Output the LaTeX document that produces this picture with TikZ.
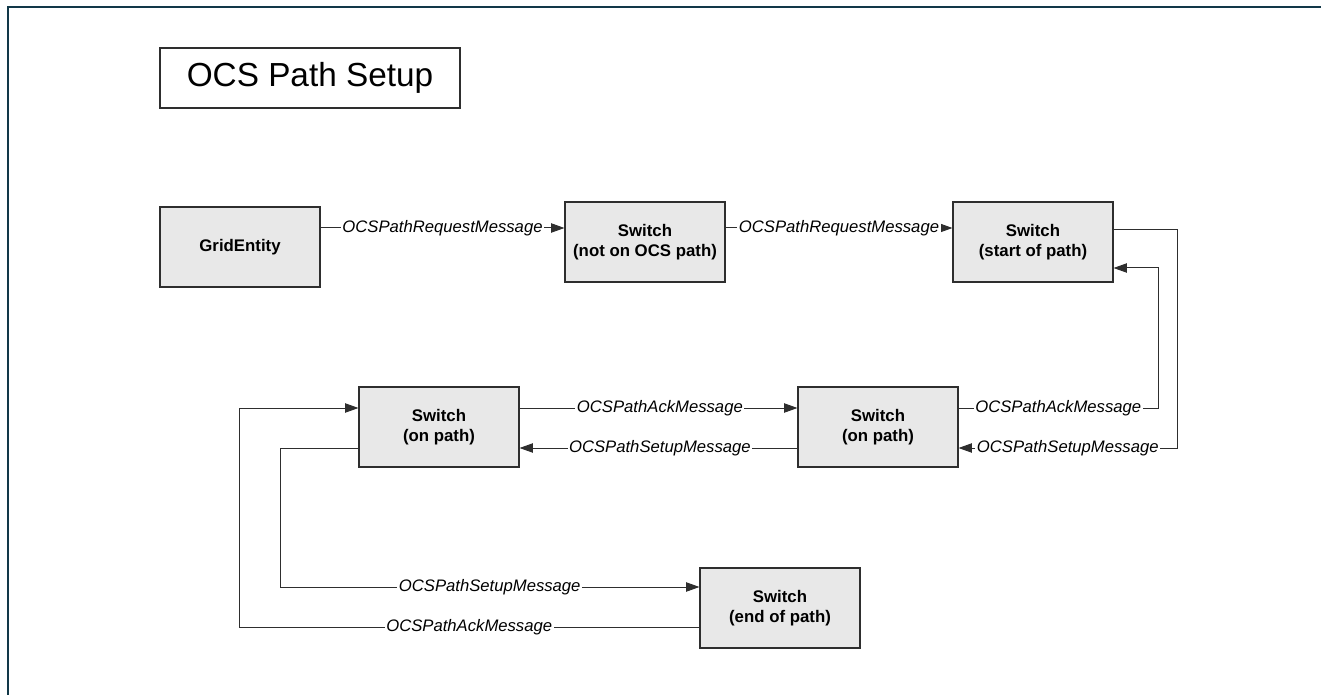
\documentclass[tikz,border=0pt]{standalone}
\usepackage{fontspec}
\setmainfont{Liberation Sans}
\usetikzlibrary{arrows.meta}
\definecolor{framec}{HTML}{123848}
\definecolor{boxfill}{HTML}{E8E8E8}
\definecolor{linec}{HTML}{2E2E2E}
\begin{document}
\begin{tikzpicture}[x=0.75pt,y=-0.75pt,
  entity/.style={draw=linec, fill=boxfill, line width=0.8pt, minimum width=120pt, minimum height=60pt,
    inner sep=0pt, align=center, font=\bfseries\fontsize{12.6}{14.5}\selectfont},
  titlebox/.style={draw=linec, line width=0.8pt, minimum width=225pt, minimum height=45pt, inner sep=0pt,
    font=\fontsize{25}{30}\selectfont},
  conn/.style={draw=linec, line width=0.75pt},
  arr/.style={conn, -{Triangle[length=10pt,width=7pt]}},
  lbl/.style={fill=white, inner sep=1.2pt, font=\itshape\fontsize{12.5}{14}\selectfont}]
\useasboundingbox (0,0) rectangle (1321,695);
% frame
\draw[framec, line width=1.5pt] (8,695) -- (8,7) -- (1321,7);
% title
\node[titlebox] (title) at (310,78) {OCS Path Setup};
% nodes
\node[entity] (ge)  at (240,247) {GridEntity};
\node[entity] (sw1) at (645,242) {Switch\\(not on OCS path)};
\node[entity] (sw2) at (1033,242) {Switch\\(start of path)};
\node[entity] (onL) at (439,427) {Switch\\(on path)};
\node[entity] (onR) at (878,427) {Switch\\(on path)};
\node[entity] (endp) at (780,608) {Switch\\(end of path)};
% helper coordinates
\coordinate (ytop) at (0,228);
\coordinate (ysw2out) at (0,230);
\coordinate (ysw2in) at (0,268);
\coordinate (yack) at (0,408);
\coordinate (ysetup) at (0,448);
\coordinate (kA) at (1158,408);
\coordinate (kS) at (1177,448);
\coordinate (kB) at (280,587);
\coordinate (kC) at (239,627);
% connectors
\draw[arr] (ge.east |- ytop) -- node[lbl]{OCSPathRequestMessage} (sw1.west |- ytop);
\draw[arr] (sw1.east |- ytop) -- node[lbl, pos=0.5]{OCSPathRequestMessage} (sw2.west |- ytop);
\draw[arr] (onR.east |- yack) -- node[lbl]{OCSPathAckMessage} (kA) |- (sw2.east |- ysw2in);
\draw[arr] (sw2.east |- ysw2out) -| (kS) -- node[lbl]{OCSPathSetupMessage} (onR.east |- kS);
\draw[arr] (onL.east |- yack) -- node[lbl, pos=0.505]{OCSPathAckMessage} (onR.west |- yack);
\draw[arr] (onR.west |- ysetup) -- node[lbl, pos=0.495]{OCSPathSetupMessage} (onL.east |- ysetup);
\draw[arr] (onL.west |- ysetup) -| (kB) -- node[lbl]{OCSPathSetupMessage} (endp.west |- kB);
\draw[arr] (endp.west |- kC) -- node[lbl]{OCSPathAckMessage} (kC) |- (onL.west |- yack);
\end{tikzpicture}
\end{document}
